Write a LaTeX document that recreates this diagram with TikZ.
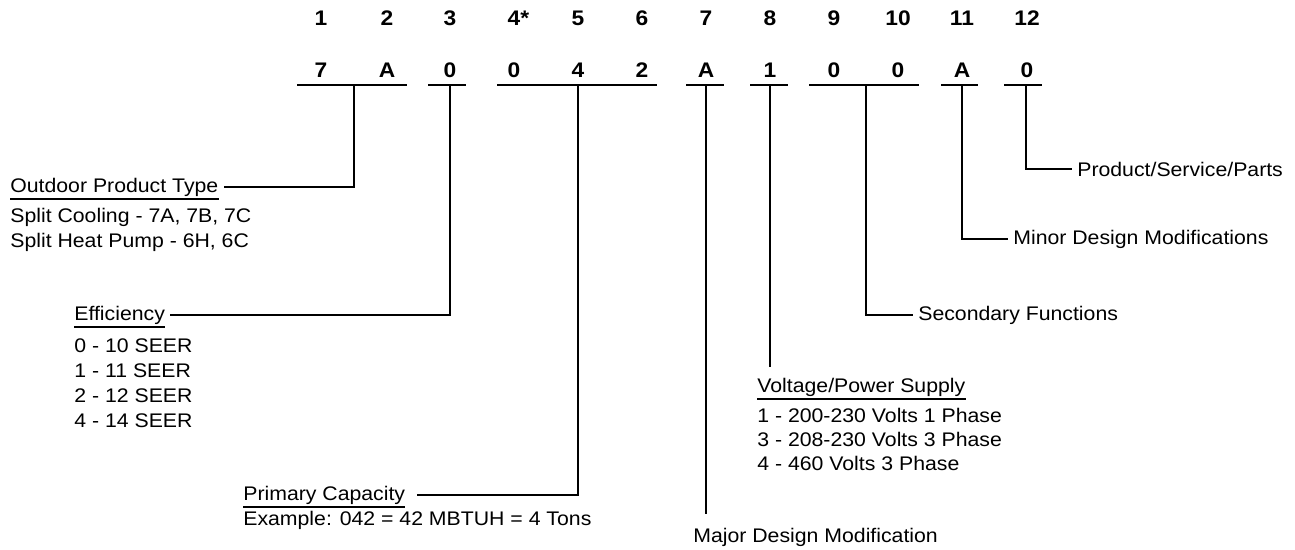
\documentclass[tikz,border=0pt]{standalone}
\usepackage{fontspec}
\setmainfont{Liberation Sans}
\newfontfamily\widesans[FakeStretch=1.08]{Liberation Sans}
\usetikzlibrary{positioning}

\tikzset{
  digit/.style={font=\widesans\fontsize{12}{13}\selectfont\bfseries, inner sep=0pt, anchor=base},
  lbl/.style={font=\widesans\fontsize{11.2}{12}\selectfont, inner sep=0pt, anchor=base west},
  bar/.style={line width=1.2pt},
  link/.style={line width=1.2pt},
  uline/.style={line width=1pt},
}

\begin{document}
\begin{tikzpicture}[x=0.02cm, y=-0.02cm]
\useasboundingbox (0,0) rectangle (1295,549);

% digit number above, code letter below
\foreach \px/\n/\c [count=\i] in {321/1/7, 387/2/A, 450/3/0, 514/4\rlap{*}/0,
    578/5/4, 642/6/2, 706/7/A, 770/8/1, 834/9/0, 898/10/0, 962/11/A, 1027/12/0}{
  \node[digit] (h\i) at (\px,25) {\n};
  \node[digit] (c\i) at (\px,77) {\c};
}

% bars under the digit groups, stem points
\foreach \xa/\xb/\xs [count=\i] in {297/407/354, 428/466/450, 497/657/578,
    686/724/706, 750/788/770, 809/919/866, 941/978/962, 1004/1042/1026}{
  \draw[bar] (\xa,85) -- (\xb,85);
  \coordinate (s\i) at (\xs,85);
}

% left side
\node[lbl] (otype) at (10,192) {Outdoor Product Type};
\foreach \t [count=\i] in {{Split Cooling - 7A, 7B, 7C}, {Split Heat Pump - 6H, 6C}}
  \node[lbl] (otype\i) at (10,197+25*\i) {\t};

\node[lbl] (eff) at (74,320) {Efficiency};
\foreach \t [count=\i] in {0 - 10 SEER, 1 - 11 SEER, 2 - 12 SEER, 4 - 14 SEER}
  \node[lbl] (eff\i) at (74,327+25*\i) {\t};

\node[lbl] (pcap) at (243,500) {Primary Capacity};
\node[lbl] (pcap1) at (243,525) {Example: 042 = 42 MBTUH = 4 Tons};

% bottom and right side
\node[lbl] (major) at (693,542) {Major Design Modification};

\node[lbl] (volt) at (757,392) {Voltage/Power Supply};
\foreach \t [count=\i] in {1 - 200-230 Volts 1 Phase, 3 - 208-230 Volts 3 Phase, 4 - 460 Volts 3 Phase}
  \node[lbl] (volt\i) at (757,398+24*\i) {\t};

\node[lbl] (sec) at (918,320) {Secondary Functions};
\node[lbl] (minor) at (1013,244) {Minor Design Modifications};
\node[lbl] (prod) at (1077,176) {Product/Service/Parts};

% underlined headings
\foreach \h in {otype, eff, pcap, volt}
  \draw[uline] ([yshift=-0.14cm]\h.base west) -- ([yshift=-0.14cm]\h.base east);

% connectors
\draw[link] (s1) |- ([xshift=0.1cm]otype.east);
\draw[link] (s2) |- ([xshift=0.1cm]eff.east);
\draw[link] (s3) |- ([xshift=0.24cm]pcap.east);
\draw[link] (s4) -- ([yshift=0.26cm]s4 |- major.north);
\draw[link] (s5) -- ([yshift=0.2cm]s5 |- volt.north);
\draw[link] (s6) |- ([xshift=-0.1cm]sec.west);
\draw[link] (s7) |- ([xshift=-0.1cm]minor.west);
\draw[link] (s8) |- ([xshift=-0.1cm]prod.west);
\end{tikzpicture}
\end{document}
